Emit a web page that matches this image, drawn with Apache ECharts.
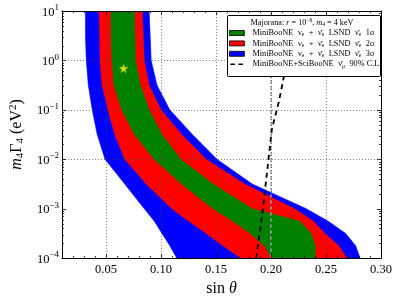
<!DOCTYPE html>
<html><head><meta charset="utf-8">
<script src="https://cdn.jsdelivr.net/npm/echarts@6/dist/echarts.min.js"></script>
<style>html,body{margin:0;padding:0;background:#fff}#c{width:399px;height:302px}</style>
</head><body><div id="c"></div>
<script>
// ---- data ----
const yLevels    = [10, 3.162, 1, 0.3162, 0.1, 0.03162, 0.01, 0.003162, 0.001, 0.0005623, 0.0003162, 0.0001778, 0.0001];
const blueLeft   = [0.0313,0.0313,0.0321,0.0339,0.0375,0.0420,0.0491,0.0670,0.0848,0.0938,0.1009,0.1080,0.1143];
const blueRight  = [0.0893,0.0902,0.0911,0.0964,0.1080,0.1286,0.1509,0.1830,0.2321,0.2518,0.2679,0.2770,0.2810];
const redLeft    = [0.0438,0.0442,0.0446,0.0464,0.0518,0.0580,0.0670,0.0866,0.1098,0.1250,0.1411,0.1563,0.1723];
const redRight   = [0.0830,0.0839,0.0848,0.0893,0.1000,0.1188,0.1411,0.1759,0.2214,0.2384,0.2491,0.2616,0.2688];
const greenLeft  = [0.0545,0.0545,0.0554,0.0571,0.0643,0.0759,0.0938,0.1188,0.1473,0.1652,0.1813,0.1938,0.2009];
const greenRight = [0.0759,0.0763,0.0768,0.0813,0.0893,0.1009,0.1179,0.1473,0.1830,0.2259,0.2366,0.2402,0.2402];
const bestFitX = [0.066];
const bestFitY = [0.69];
const limitX = [0.1866, 0.1920, 0.2009, 0.2071, 0.2116, 0.2150];
const limitY = [0.0001, 0.00076, 0.0417, 0.1445, 0.457, 1];
const refX = [0.2, 0.2];
const refY = [0.0001, 10];
const xTickValues = [0.05, 0.10, 0.15, 0.20, 0.25, 0.30];
const yTickValues = [0.0001, 0.001, 0.01, 0.1, 1, 10];
const xMin = 0.01, xMax = 0.30;

// minor tick positions (axis decoration)
const xMinorTicks = []; for (let i = 1; i <= 30; i++) xMinorTicks.push(i / 100);
const yMinorTicks = []; for (let k = -4; k < 1; k++) for (let m = 2; m <= 9; m++) yMinorTicks.push(m * Math.pow(10, k));

const SERIF = '"Liberation Serif", "DejaVu Serif", serif';

function band(name, color, left, right) {
  const verts = [];
  for (let i = 0; i < yLevels.length; i++) verts.push([left[i], yLevels[i]]);
  for (let i = yLevels.length - 1; i >= 0; i--) verts.push([right[i], yLevels[i]]);
  return {
    type: 'custom', name: name, xAxisIndex: 0, yAxisIndex: 0, clip: true, silent: true,
    itemStyle: { color: color },
    data: verts,
    renderItem: function (params, api) {
      if (params.dataIndex !== 0) return;
      const pts = verts.map(v => api.coord(v));
      return { type: 'polygon', shape: { points: pts }, style: { fill: color, stroke: color, lineWidth: 0.5 } };
    },
    z: 2
  };
}

const tickSeries = {
  type: 'custom', name: 'ticks', xAxisIndex: 0, yAxisIndex: 0, silent: true, z: 6,
  data: [[xTickValues[0], yTickValues[1]]],
  renderItem: function (params, api) {
    if (params.dataIndex !== 0) return;
    const cs = params.coordSys;
    const L = cs.x, R = cs.x + cs.width, T = cs.y, B = cs.y + cs.height;
    const ch = [];
    const st = { stroke: '#000', lineWidth: 0.8 };
    const add = (x1, y1, x2, y2) => ch.push({ type: 'line', shape: { x1, y1, x2, y2 }, style: st });
    xMinorTicks.forEach(v => {
      const major = xTickValues.some(t => Math.abs(t - v) < 1e-9);
      const len = major ? 4 : 2;
      const x = Math.round(api.coord([v, yTickValues[1]])[0]) + 0.5;
      add(x, B, x, B - len); add(x, T, x, T + len);
    });
    yTickValues.forEach(v => {
      const y = Math.round(api.coord([xTickValues[0], v])[1]) + 0.5;
      add(L, y, L + 4, y); add(R, y, R - 4, y);
    });
    yMinorTicks.forEach(v => {
      const y = Math.round(api.coord([xTickValues[0], v])[1]) + 0.5;
      add(L, y, L + 2, y); add(R, y, R - 2, y);
    });
    return { type: 'group', children: ch };
  }
};

const supMap = v => {
  const e = Math.round(Math.log10(v));
  return '{b|10}{s|' + (e < 0 ? '\u2212' + (-e) : e) + '}';
};

const legendText = {
  g1: 'MiniBooNE {m|ν}{s|e} + {m|ν̄}{s|e} LSND {m|ν̄}{s|e} 1σ',
  r2: 'MiniBooNE {m|ν}{s|e} + {m|ν̄}{s|e} LSND {m|ν̄}{s|e} 2σ',
  b3: 'MiniBooNE {m|ν}{s|e} + {m|ν̄}{s|e} LSND {m|ν̄}{s|e} 3σ',
  lim: 'MiniBooNE+SciBooNE {m|ν̄}{s|μ} 90% C.L.'
};

const chart = echarts.init(document.getElementById('c'), null, { renderer: 'canvas' });
chart.setOption({
  animation: false,
  backgroundColor: '#fff',
  grid: { left: 57, right: 18, top: 11, bottom: 41 },
  xAxis: [{
    type: 'value', min: xMin, max: xMax, interval: 0.01, position: 'bottom', z: 5,
    axisLine: { show: true, lineStyle: { color: '#000', width: 1 } },
    axisTick: { show: false }, splitLine: { show: false },
    axisLabel: {
      margin: 5, color: '#000', fontFamily: SERIF, fontSize: 12.5,
      formatter: v => xTickValues.some(t => Math.abs(t - v) < 1e-9) ? v.toFixed(2) : ''
    },
    name: '{n|sin}{i| θ}', nameLocation: 'middle', nameGap: 20,
    nameTextStyle: { color: '#000', fontFamily: SERIF, fontSize: 16, verticalAlign: 'top',
      rich: { n: { fontFamily: SERIF, fontSize: 16 }, i: { fontFamily: SERIF, fontSize: 16, fontStyle: 'italic' } } }
  }, {
    type: 'value', min: xMin, max: xMax, interval: 0.01, position: 'top', z: 5,
    axisLine: { show: true, lineStyle: { color: '#000', width: 1 } },
    axisTick: { show: false }, axisLabel: { show: false }, splitLine: { show: false }
  }],
  yAxis: [{
    type: 'log', logBase: 10, min: 0.0001, max: 10, position: 'left', z: 5,
    axisLine: { show: true, lineStyle: { color: '#000', width: 1 } },
    axisTick: { show: false }, splitLine: { show: false }, minorTick: { show: false },
    axisLabel: {
      margin: 3, color: '#000', formatter: supMap,
      rich: {
        b: { fontFamily: SERIF, fontSize: 12.5, verticalAlign: 'bottom', color: '#000' },
        s: { fontFamily: SERIF, fontSize: 9, verticalAlign: 'top', padding: [0, 0, 6.5, 0], color: '#000' }
      }
    },
    name: '{i|m}{sb|4}{n|Γ}{sb|4}{n| (eV}{sp|2}{n|)}', nameLocation: 'middle', nameGap: 30, nameRotate: 90,
    nameTextStyle: {
      color: '#000',
      rich: {
        i: { fontFamily: SERIF, fontSize: 16, fontStyle: 'italic', verticalAlign: 'middle', lineHeight: 18 },
        n: { fontFamily: SERIF, fontSize: 16, verticalAlign: 'middle', lineHeight: 18 },
        sb: { fontFamily: SERIF, fontSize: 11, verticalAlign: 'bottom' },
        sp: { fontFamily: SERIF, fontSize: 11, verticalAlign: 'top' }
      }
    }
  }, {
    type: 'log', logBase: 10, min: 0.0001, max: 10, position: 'right', z: 5,
    axisLine: { show: true, lineStyle: { color: '#000', width: 1 } },
    axisTick: { show: false }, axisLabel: { show: false }, splitLine: { show: false }
  }],
  legend: {
    orient: 'vertical', left: 229, top: 28, itemWidth: 15, itemHeight: 5, itemGap: 0.4, padding: 0, z: 8,
    selectedMode: false,
    data: [
      { name: 'g1', icon: 'rect', itemStyle: { borderColor: '#000', borderWidth: 0.8 } },
      { name: 'r2', icon: 'rect', itemStyle: { borderColor: '#000', borderWidth: 0.8 } },
      { name: 'b3', icon: 'rect', itemStyle: { borderColor: '#000', borderWidth: 0.8 } },
      { name: 'lim', icon: 'path://M0,0 M1,1.8H5.5V3.4H1Z M9,1.8H13.5V3.4H9Z M15,5', itemStyle: { color: '#000', borderWidth: 0 } }
    ],
    formatter: n => legendText[n],
    textStyle: {
      fontFamily: SERIF, fontSize: 8.3, lineHeight: 10, color: '#000', padding: [0, 0, 0, 3],
      rich: {
        m: { fontFamily: SERIF, fontSize: 8.3, lineHeight: 10, padding: [0, 0, 0, 2.5] },
        s: { fontFamily: SERIF, fontSize: 5.5, verticalAlign: 'bottom', padding: [0, 2.5, 0, 0] }
      }
    }
  },
  graphic: [
    { type: 'rect', z: 7, shape: { x: 227.5, y: 15.5, width: 153, height: 61, r: 1 },
      style: { fill: '#fff', stroke: '#000', lineWidth: 1 } },
    { type: 'text', z: 9, x: 302, y: 23,
      style: {
        text: 'Majorana: {i|r} = 10{p|\u22126}, {i|m}{q|4} = 4 keV', align: 'center', verticalAlign: 'middle',
        fill: '#000', fontFamily: SERIF, fontSize: 8.2, lineHeight: 10,
        rich: {
          i: { fontFamily: SERIF, fontSize: 8.2, fontStyle: 'italic', lineHeight: 10 },
          p: { fontFamily: SERIF, fontSize: 5.5, verticalAlign: 'top' },
          q: { fontFamily: SERIF, fontSize: 5.5, verticalAlign: 'bottom' }
        }
      } }
  ],
  series: [
    band('b3', '#0000ff', blueLeft, blueRight),
    band('r2', '#ff0000', redLeft, redRight),
    band('g1', '#008000', greenLeft, greenRight),
    {
      type: 'line', name: 'ref', xAxisIndex: 0, yAxisIndex: 0, silent: true, z: 3,
      data: refX.map((x, i) => [x, refY[i]]), symbol: 'none',
      lineStyle: { color: '#a0a0a0', width: 1.5, type: [4, 2] }
    },
    {
      type: 'line', name: 'lim', xAxisIndex: 0, yAxisIndex: 0, silent: true, z: 4,
      data: limitX.map((x, i) => [x, limitY[i]]), symbol: 'none',
      lineStyle: { color: '#000', width: 1.8, type: [5, 4] },
      itemStyle: { color: '#000' },
      markLine: {
        silent: true, symbol: ['none', 'none'], label: { show: false },
        lineStyle: { color: '#444', width: 0.7, type: [1, 2] },
        emphasis: { disabled: true },
        data: xTickValues.slice(0, 5).map(v => ({ xAxis: v }))
          .concat(yTickValues.slice(1, 5).map(v => ({ yAxis: v })))
      }
    },
    {
      type: 'scatter', name: 'best', xAxisIndex: 0, yAxisIndex: 0, silent: true, z: 5,
      data: bestFitX.map((x, i) => [x, bestFitY[i]]),
      symbol: 'path://M50,0 L61,35 L98,35 L68,57 L79,91 L50,70 L21,91 L32,57 L2,35 L39,35 Z',
      symbolSize: 9, itemStyle: { color: '#ffff00', borderColor: '#c8c800', borderWidth: 0.3 }
    },
    tickSeries
  ]
});
</script>
</body></html>
